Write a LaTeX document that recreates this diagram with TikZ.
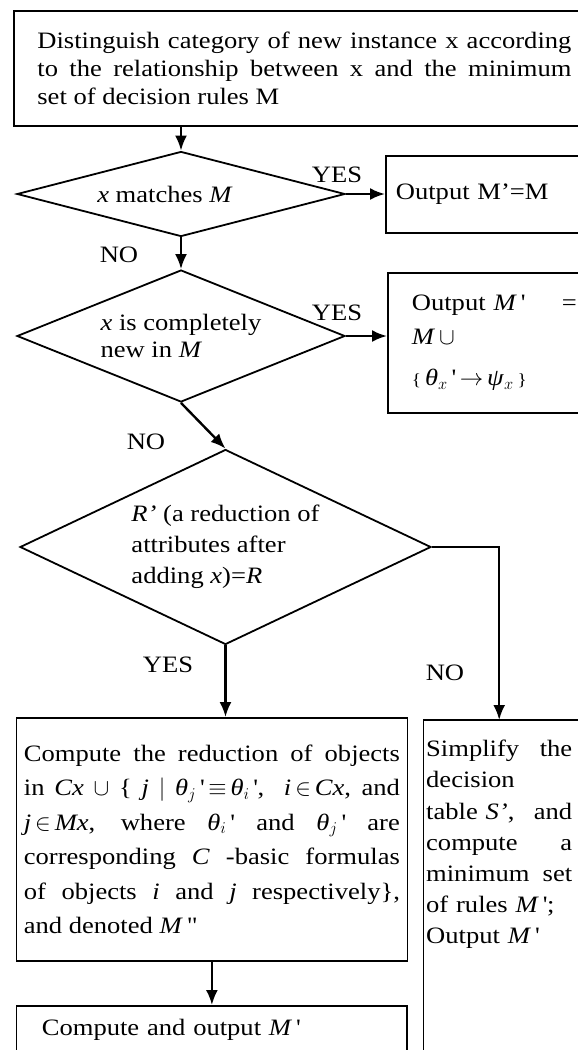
\RequirePackage{fix-cm}
\documentclass[tikz,border=0pt]{standalone}
\usepackage{fontspec}
\setmainfont[FakeStretch=1.13]{Liberation Serif}
\usepackage{tikz}
\usetikzlibrary{arrows.meta, shapes.geometric}

\newcommand{\sq}{\textquotesingle}

\begin{document}
\begin{tikzpicture}[x=1pt, y=-1pt, >={Latex[length=15pt,width=12pt]}, font=\fontsize{23.5}{27.6}\selectfont]
\tikzstyle{box} = [draw=black, line width=1.8pt, rectangle, inner ysep=4pt]
\tikzstyle{decide} = [draw=black, line width=1.8pt, diamond, inner sep=0pt, align=left]
\tikzstyle{invis} = [draw=none, inner sep=0pt]
\tikzstyle{arrow} = [->, line width=2.4pt]

\clip (0,0) rectangle (578,1050);

\node[box, anchor=north west, text width=534pt, inner xsep=23.5pt, minimum height=115pt, align=justify] at (13,10) (rel) {Distinguish category of new instance x according\linebreak to the relationship between x and the minimum\linebreak set of decision rules M\par\vspace*{22pt}};

\node[decide, aspect=3.86, minimum width=328pt, minimum height=85pt] at (181,194) (match) {\textit{x} matches \textit{M}\hspace*{32pt}};
\node[box, anchor=north west, text width=230pt, inner xsep=10pt, minimum height=77pt, align=left] at (385,155) (same) {Output M’=M\par\vspace*{10pt}};

\node[decide, aspect=2.48, minimum width=328pt, minimum height=132pt] at (181,336) (new) {\textit{x} is completely\\ new in \textit{M}};
\node[box, anchor=north west, text width=165pt, inner xsep=24pt, minimum height=140pt, align=left] at (387,272) (add) {Output \textit{M}\,\sq\hfill=\\[6pt] \textit{M}\,$\cup$\\[14pt] {\fontsize{17}{20}\selectfont\{}\,\textit{θ}$_x$\,\sq\,$\to$\,\textit{ψ}$_x$\,{\fontsize{17}{20}\selectfont\}}\par\vspace*{8pt}};

\node[decide, aspect=2.1, minimum width=411pt, minimum height=195pt, font=\fontsize{23.5}{31}\selectfont] at (225.5,547) (red) {\textit{R’} (a reduction of\\ attributes after\\ adding \textit{x})=\textit{R}};

\node[box, anchor=north west, text width=376pt, inner xsep=7.5pt, minimum height=243pt, align=justify, font=\fontsize{23.5}{34.4}\selectfont] at (15.5,717) (comp) {Compute the reduction of objects\linebreak in \textit{Cx} $\cup$ \{ \textit{j} $|$ \textit{θ}$_j$\,\sq\,$\equiv$\,\textit{θ}$_i$\,\sq,\ \ \textit{i}\,$\in$\,\textit{Cx}, and\linebreak \textit{j}\,$\in$\,\textit{Mx}, where \textit{θ}$_i$\,\sq{} and \textit{θ}$_j$\,\sq{} are\linebreak corresponding \textit{C} -basic formulas\linebreak of objects \textit{i} and \textit{j} respectively\},\linebreak and denoted \textit{M}\,\textquotedbl\par\vspace*{30pt}};
\node[box, anchor=north west, text width=339.5pt, inner xsep=25.5pt, minimum height=47pt, align=left] at (15.5,1005) (out) {Compute and output \textit{M}\,\sq};

\node[invis, anchor=north west, text width=146pt, inner xsep=2.5pt, inner ysep=20pt, align=left, font=\fontsize{23.5}{31.2}\selectfont] at (423.5,720) (simp) {Simplify\hfill the\\ decision\\ table \textit{S’},\hfill and\\ compute\hfill a\\ minimum\hfill set\\ of rules \textit{M}\,\sq;\\ Output \textit{M}\,\sq};
\draw[line width=1.8pt] (simp.north west) rectangle ++(250,400);

% labels
\node[invis] at (337,175) {YES};
\node[invis] at (119,255) {NO};
\node[invis] at (337,313) {YES};
\node[invis] at (146,442) {NO};
\node[invis] at (168,665) {YES};
\node[invis] at (445,673) {NO};

\draw[arrow] (match.north |- rel.south) -- (match.north);
\draw[arrow] (match.east) -- (match.east -| same.west);
\draw[arrow] (match.south) -- (new.north);
\draw[arrow] (new.east) -- (new.east -| add.west);
\draw[arrow] (new.south) -- (red.north);
\draw[arrow] (red.south) -- (red.south |- comp.north);
\draw[arrow] (red.east) -| (simp.north);
\draw[arrow] (comp.south) -- (comp.south |- out.north);
\end{tikzpicture}
\end{document}
